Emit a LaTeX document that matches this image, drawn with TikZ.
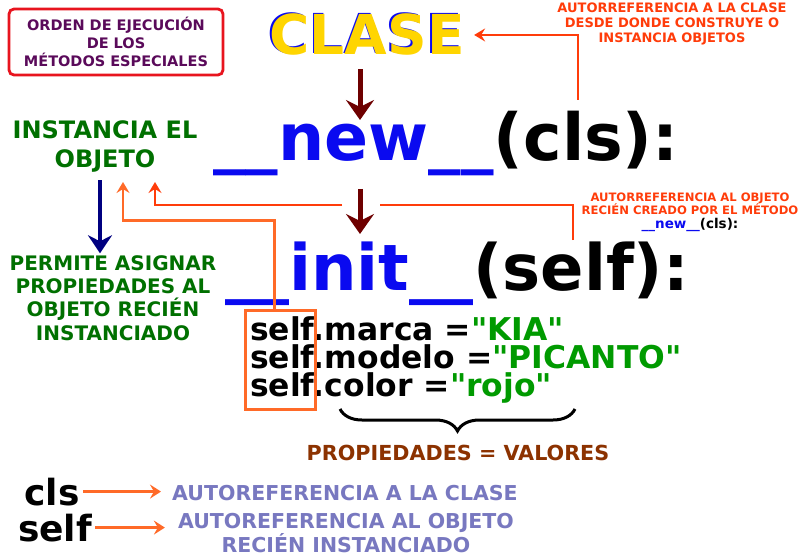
\documentclass[tikz,border=0pt]{standalone}
\usepackage{fontspec}
\setmainfont{DejaVu Sans}
\usepackage{xcolor}
\usepackage{tikz}
\usetikzlibrary{arrows.meta,positioning,decorations.pathreplacing,calc}
\definecolor{ordenpurple}{HTML}{5A0A5A}
\definecolor{boxred}{HTML}{E8141E}
\definecolor{clasegold}{HTML}{FFD500}
\definecolor{pyblue}{HTML}{0A0AF0}
\definecolor{flowred}{HTML}{6E0000}
\definecolor{refred}{HTML}{FF3C0A}
\definecolor{selforange}{HTML}{FF6A28}
\definecolor{notegreen}{HTML}{007000}
\definecolor{valgreen}{HTML}{009A00}
\definecolor{navyarrow}{HTML}{000080}
\definecolor{propbrown}{HTML}{8C3200}
\definecolor{legendblue}{HTML}{7878C0}
\newcommand{\fsz}[2]{\fontsize{#1}{#2}\selectfont\bfseries}
\newcommand{\pyval}[1]{\textcolor{valgreen}{\textquotedbl#1\textquotedbl}}

\begin{document}
\begin{tikzpicture}[x=1pt, y=-1pt,
    flowarrow/.style={draw=flowred, line width=5pt, -{Stealth[length=20pt,width=28pt,inset=7pt]}},
    refline/.style={draw=refred, line width=2.6pt},
    selfline/.style={draw=selforange, line width=2.6pt},
    reftip/.style={-{Stealth[length=11pt,width=13pt,inset=4pt]}},
    note/.style={align=center, inner sep=0pt}]
    \useasboundingbox[fill=white] (0,0) rectangle (800,559);

    % titulo y clase
    \node[draw=boxred, line width=2.8pt, rounded corners=5pt, minimum width=214pt, minimum height=66pt, align=center, text=ordenpurple, font=\fsz{14.5}{18}] (orden) at (116,42) {ORDEN DE EJECUCIÓN\\DE LOS\\MÉTODOS ESPECIALES};
    \node[anchor=base, text=pyblue, font=\fsz{55}{55}] (claseshadow) at (365.3,53.7) {CLASE};
    \node[anchor=base, text=clasegold, font=\fsz{55}{55}] (clase) at (367,55) {CLASE};

    % metodos
    \node[anchor=base, font=\fsz{65}{65}] (newm) at (446,160) {\textcolor{pyblue}{\_\_new\_\_}(cls):};
    \node[anchor=base, font=\fsz{64}{64}] (initm) at (457,290) {\textcolor{pyblue}{\_\_init\_\_}(self):};
    \coordinate (newtop) at (360,120);
    \coordinate (inittop) at (360,234);
    \draw[flowarrow] ($(clase.south -| newtop)+(0,10)$) -- (newtop);
    \draw[flowarrow] ($(newm.south -| inittop)+(0,10)$) -- (inittop);

    % notas de la derecha
    \node[note, text=refred, font=\fsz{13}{14.6}] (clsnote) at (672,24) {AUTORREFERENCIA A LA CLASE\\DESDE DONDE CONSTRUYE O\\INSTANCIA OBJETOS};
    \node[note, text=refred, font=\fsz{11.6}{13.5}] (selfnote) at (690,212) {AUTORREFERENCIA AL OBJETO\\RECIÉN CREADO POR EL MÉTODO\\{\fontsize{13.5}{13.5}\selectfont\textcolor{pyblue}{\_\_new\_\_}\textcolor{black}{(cls):}}};

    % notas de la izquierda
    \node[note, text=notegreen, font=\fsz{24}{29}] (instancia) at (105,146) {INSTANCIA EL\\OBJETO};
    \node[note, text=notegreen, font=\fsz{20}{23.3}] (permite) at (113,298) {PERMITE ASIGNAR\\PROPIEDADES AL\\OBJETO RECIÉN\\INSTANCIADO};
    \draw[draw=navyarrow, line width=4.5pt, -{Stealth[length=18pt,width=24pt,inset=6pt]}] ($(instancia.south)+(-5,8)$) -- ($(permite.north)+(-13,-2)$);

    % propiedades
    \node[anchor=north west, align=left, inner sep=0pt, font=\fsz{31.4}{28}] (codigo) at (250,316) {self.marca =\pyval{KIA}\\self.modelo =\pyval{PICANTO}\\self.color =\pyval{rojo}};
    \node[draw=selforange, line width=2.6pt, minimum width=70pt, minimum height=99pt, inner sep=0pt] (selfs) at (280.5,360) {};
    \draw[decorate, decoration={brace, mirror, amplitude=22pt}, line width=3pt] (340,409) -- (575,409);
    \node[anchor=base, text=propbrown, font=\fsz{20.7}{24}] (prop) at (458,460) {PROPIEDADES = VALORES};

    % autorreferencias
    \coordinate (clsarg) at (578,100);
    \coordinate (selfarg) at (573,240);
    \coordinate (gapright) at (380,205);
    \coordinate (gapleft) at (342,205);
    \draw[refline, reftip] (clsarg) |- ([xshift=6pt]clase.east);
    \draw[refline] (selfarg) |- (gapright);
    \draw[refline, reftip] (gapleft) -| ($(instancia.south)+(50,10)$);
    \draw[selfline, reftip] ($(selfs.north)+(-6,0)$) -- ++(0,-89) -| ($(instancia.south)+(18,10)$);

    % leyenda
    \node[anchor=base, font=\fsz{36}{36}] (clsw) at (52,505) {cls};
    \node[anchor=base, font=\fsz{36}{36}] (selfw) at (55,541) {self};
    \node[note, anchor=west, text=legendblue, font=\fsz{20.5}{24}] (clsdef) at (172,493) {AUTOREFERENCIA A LA CLASE};
    \node[note, text=legendblue, font=\fsz{20.5}{24}] (selfdef) at (346,533) {AUTOREFERENCIA AL OBJETO\\RECIÉN INSTANCIADO};
    \draw[selfline, -{Stealth[length=11pt,width=14pt,inset=4pt]}, shorten >=11pt] (clsw.east) -- (clsw.east -| clsdef.west);
    \draw[selfline, -{Stealth[length=11pt,width=14pt,inset=4pt]}, shorten >=13pt] (selfw.east) -- (selfw.east -| selfdef.west);
\end{tikzpicture}
\end{document}
